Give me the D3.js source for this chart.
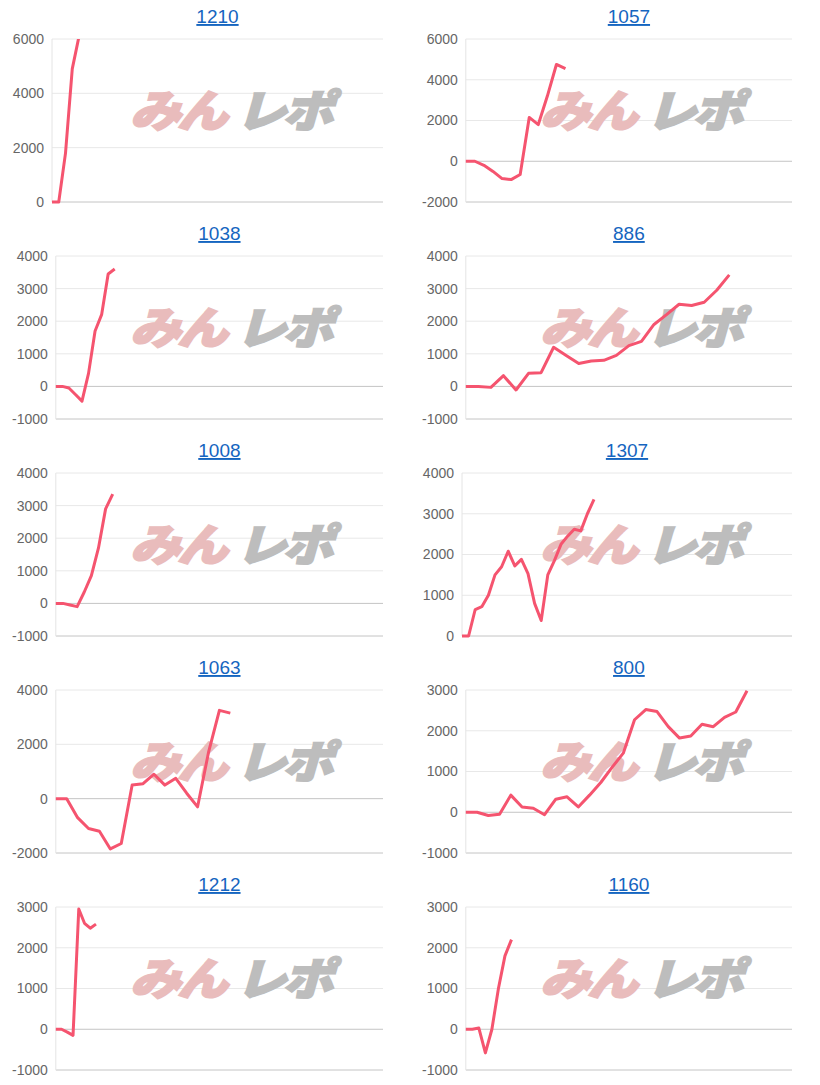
<!DOCTYPE html>
<html><head><meta charset="utf-8">
<script src="https://cdn.jsdelivr.net/npm/d3@7"></script>
<style>body{margin:0;background:#fff;font-family:Arial,"Liberation Sans",sans-serif}</style>
</head><body><svg id="c" width="820" height="1085"></svg>
<script>
const titles = ["1210","1057","1038","886","1008","1307","1063","800","1212","1160"];
const v1210 = [0,0,1800,4900,6100];
const v1057 = [0,0,-200,-500,-850,-900,-650,2150,1800,3200,4750,4550];
const v1038 = [0,0,-50,-250,-450,400,1700,2200,3450,3600];
const v886  = [0,0,-30,330,-110,400,420,1200,950,700,780,800,950,1250,1380,1900,2200,2520,2480,2580,2950,3420];
const v1008 = [0,0,-50,-100,350,850,1700,2900,3350];
const v1307 = [0,0,650,720,1000,1500,1700,2080,1720,1880,1530,800,380,1500,1850,2250,2450,2620,2580,3000,3350];
const v1063 = [0,0,-700,-1100,-1200,-1850,-1650,500,550,900,500,750,200,-300,1700,3250,3150];
const v800  = [0,0,-80,-50,420,130,100,-60,320,380,130,420,730,1100,1450,2270,2520,2470,2100,1820,1870,2160,2100,2330,2460,2980];
const v1212 = [0,0,-70,-150,2950,2600,2480,2580];
const v1160 = [0,0,30,-580,0,1000,1800,2200];
const series = [v1210,v1057,v1038,v886,v1008,v1307,v1063,v800,v1212,v1160];
const xIntervals = [49,36,50,26,46,50,30,29,57,50];
const yDomains = [[0,6000],[-2000,6000],[-1000,4000],[-1000,4000],[-1000,4000],[0,4000],[-2000,4000],[-1000,3000],[-1000,3000],[-1000,3000]];
const yTicks = [
 [0,2000,4000,6000],[-2000,0,2000,4000,6000],[-1000,0,1000,2000,3000,4000],[-1000,0,1000,2000,3000,4000],
 [-1000,0,1000,2000,3000,4000],[0,1000,2000,3000,4000],[-2000,0,2000,4000],[-1000,0,1000,2000,3000],
 [-1000,0,1000,2000,3000],[-1000,0,1000,2000,3000]];

const svg = d3.select("#c");
const meas = svg.append("text").attr("font-size",14);
series.forEach((vals,i)=>{
  const col=i%2,row=Math.floor(i/2);
  const colX=col*410, top=39+217*row, h=163;
  const right=col?792:383;
  let lw=0; yTicks[i].forEach(t=>{meas.text(t);lw=Math.max(lw,meas.node().getComputedTextLength());});
  const left=Math.max(colX+52, colX+12+lw+8);
  const g=svg.append("g");
  const x=d3.scaleLinear().domain([0,xIntervals[i]]).range([left,right]);
  const y=d3.scaleLinear().domain(yDomains[i]).range([top+h,top]);
  g.append("text").attr("x",(left+right)/2).attr("y",top-16).attr("text-anchor","middle")
   .attr("font-size",19).attr("fill","#1565c0").attr("text-decoration","underline").text(titles[i]);
  yTicks[i].forEach(t=>{
    g.append("line").attr("x1",left).attr("x2",right).attr("y1",y(t)).attr("y2",y(t))
     .attr("stroke",t===0||t===yDomains[i][0]?"#c4c4c4":"#e8e8e8").attr("stroke-width",1);
  });
  g.append("line").attr("x1",left).attr("x2",left).attr("y1",top).attr("y2",top+h).attr("stroke","#e4e4e4");
  const ax=g.append("g").attr("transform",`translate(${left-4},0)`).call(d3.axisLeft(y).tickValues(yTicks[i]).tickSize(0).tickPadding(4).tickFormat(d=>String(d)));
  ax.select(".domain").remove();
  ax.selectAll("text").attr("font-size",14).attr("fill","#666").attr("font-family","Arial,'Liberation Sans',sans-serif");
  const wx=colX+130, wy=top+88;
  const wm=g.append("text").attr("x",wx).attr("y",wy).attr("font-size",44).attr("font-weight","900")
    .attr("font-style","italic").attr("font-family","'Noto Sans CJK JP'").attr("letter-spacing",-3)
    .attr("textLength",200).attr("lengthAdjust","spacingAndGlyphs");
  wm.append("tspan").attr("fill","#e9bcbc").attr("stroke","#e9bcbc").attr("stroke-width",2).text("みん");
  wm.append("tspan").attr("fill","#bdbdbd").attr("stroke","#bdbdbd").attr("stroke-width",2).attr("dx",10).text("レポ");
  const cid="clip"+i;
  svg.append("clipPath").attr("id",cid).append("rect").attr("x",left-2).attr("y",top).attr("width",right-left+4).attr("height",h+4);
  g.append("path").datum(vals).attr("clip-path",`url(#${cid})`)
   .attr("d",d3.line().x((d,j)=>x(j)).y(d=>y(d)))
   .attr("fill","none").attr("stroke","#f5546f").attr("stroke-width",3).attr("stroke-linejoin","round");
});
meas.remove();
</script></body></html>
